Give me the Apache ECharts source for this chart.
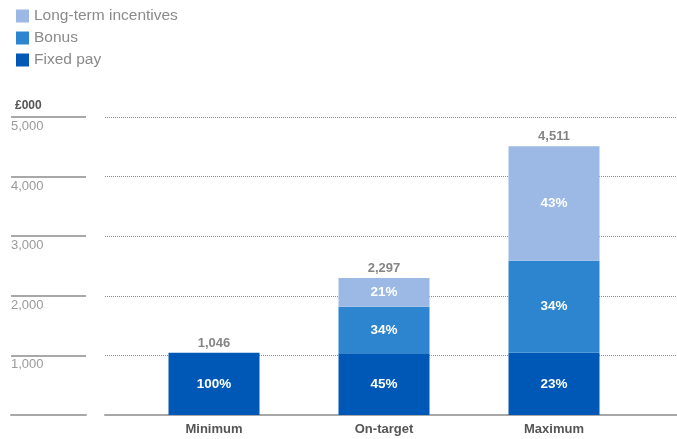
<!DOCTYPE html>
<html>
<head>
<meta charset="utf-8">
<script src="https://cdn.jsdelivr.net/npm/echarts@6/dist/echarts.min.js"></script>
<style>
  html, body { margin: 0; padding: 0; background: #fff; }
  #chart { width: 677px; height: 439px; }
</style>
</head>
<body>
<div id="chart"></div>
<script>
// Remuneration scenarios (£000)
const categories = ['Minimum', 'On-target', 'Maximum'];
const fixedPay = [1046, 1034, 1046];
const bonus = [0, 781, 1540];
const longTermIncentives = [0, 482, 1925];
const yTicks = [0, 1000, 2000, 3000, 4000, 5000];

const totals = categories.map((_, i) => fixedPay[i] + bonus[i] + longTermIncentives[i]);
const FONT = '"Liberation Sans", Arial, sans-serif';

const Y_MIN = yTicks[0];
const Y_MAX = yTicks[yTicks.length - 1];
const Y_STEP = yTicks[1] - yTicks[0];
const GRID_TOP = 117;
const GRID_BOTTOM = 24;

function pctLabel(arr) {
  return {
    show: true,
    position: 'inside',
    color: '#fff',
    fontFamily: FONT,
    fontWeight: 'bold',
    fontSize: 13.5,
    formatter: p => arr[p.dataIndex] > 0 ? Math.round(arr[p.dataIndex] / totals[p.dataIndex] * 100) + '%' : ''
  };
}

const chart = echarts.init(document.getElementById('chart'), null, { renderer: 'canvas' });
chart.setOption({
  animation: false,
  backgroundColor: '#fff',
  textStyle: { fontFamily: FONT },
  title: {
    text: '£000',
    left: 10,
    top: 95,
    textStyle: { fontFamily: FONT, fontSize: 12, fontWeight: 'bold', color: '#555' }
  },
  legend: {
    orient: 'vertical',
    left: 11,
    top: 3,
    itemWidth: 13,
    itemHeight: 13,
    itemGap: 6,
    icon: 'rect',
    data: ['Long-term incentives', 'Bonus', 'Fixed pay'],
    textStyle: { fontFamily: FONT, fontSize: 15.5, lineHeight: 16, color: '#8a8a8a' }
  },
  grid: [
    // dotted guide lines and baseline
    { left: 105, right: 0, top: GRID_TOP, bottom: GRID_BOTTOM },
    // bars
    { left: 129, right: 38, top: GRID_TOP, bottom: GRID_BOTTOM },
    // tick rules and labels on the left
    { left: 11, width: 75, top: GRID_TOP, bottom: GRID_BOTTOM }
  ],
  xAxis: [
    {
      gridIndex: 0, type: 'category', data: [''],
      axisLine: { show: true, lineStyle: { color: '#a8a8a8', width: 2 } },
      axisTick: { show: false }, axisLabel: { show: false }
    },
    {
      gridIndex: 1, type: 'category', data: categories,
      axisLine: { show: false }, axisTick: { show: false },
      axisLabel: { color: '#555', fontFamily: FONT, fontWeight: 'bold', fontSize: 13, margin: 8 }
    },
    {
      gridIndex: 2, type: 'category', data: [''],
      axisLine: { show: true, lineStyle: { color: '#a8a8a8', width: 2 } },
      axisTick: { show: false }, axisLabel: { show: false }
    }
  ],
  yAxis: [
    {
      gridIndex: 0, type: 'value', min: Y_MIN, max: Y_MAX, interval: Y_STEP,
      axisLine: { show: false }, axisTick: { show: false }, axisLabel: { show: false },
      splitLine: { show: true, lineStyle: { color: '#8c8c8c', type: [1, 1], width: 1 } }
    },
    {
      gridIndex: 1, type: 'value', min: Y_MIN, max: Y_MAX, interval: Y_STEP,
      axisLine: { show: false }, axisTick: { show: false }, axisLabel: { show: false },
      splitLine: { show: false }
    },
    {
      gridIndex: 2, type: 'value', min: Y_MIN, max: Y_MAX, interval: Y_STEP,
      axisLine: { show: false }, axisTick: { show: false },
      splitLine: { show: true, lineStyle: { color: '#a8a8a8', width: 2 } },
      axisLabel: {
        inside: true, margin: 0, align: 'left', verticalAlign: 'top',
        padding: [3, 0, 0, 0],
        color: '#9a9a9a', fontFamily: FONT, fontSize: 13,
        formatter: v => v === 0 ? '' : v.toLocaleString('en-GB')
      }
    }
  ],
  series: [
    {
      name: 'Fixed pay', type: 'bar', stack: 'pay', xAxisIndex: 1, yAxisIndex: 1,
      barWidth: 91, data: fixedPay, itemStyle: { color: '#0058b6' },
      label: pctLabel(fixedPay)
    },
    {
      name: 'Bonus', type: 'bar', stack: 'pay', xAxisIndex: 1, yAxisIndex: 1,
      barWidth: 91, data: bonus, itemStyle: { color: '#2d85cf' },
      label: pctLabel(bonus)
    },
    {
      name: 'Long-term incentives', type: 'bar', stack: 'pay', xAxisIndex: 1, yAxisIndex: 1,
      barWidth: 91, data: longTermIncentives, itemStyle: { color: '#9bb9e4' },
      label: pctLabel(longTermIncentives)
    },
    {
      name: 'Total', type: 'scatter', xAxisIndex: 1, yAxisIndex: 1,
      symbolSize: 0, data: totals, silent: true,
      label: {
        show: true, position: 'top', distance: 3,
        color: '#666', fontFamily: FONT, fontWeight: 'bold', fontSize: 13,
        formatter: p => p.value.toLocaleString('en-GB')
      }
    }
  ]
});
</script>
</body>
</html>
